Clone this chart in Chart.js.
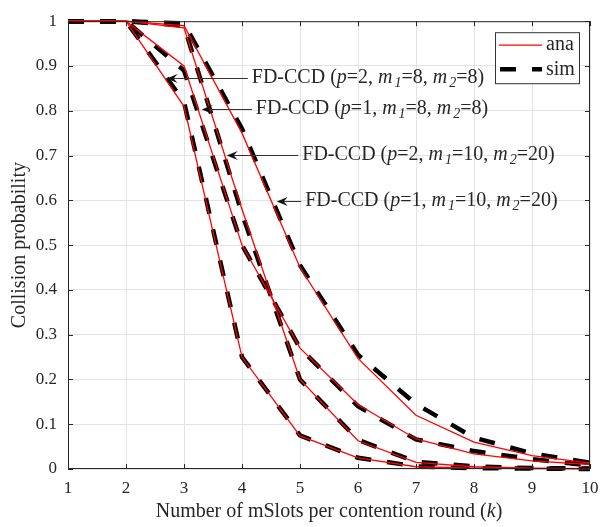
<!DOCTYPE html>
<html>
<head>
<meta charset="utf-8">
<script src="https://cdn.jsdelivr.net/npm/chart.js@4.4.1/dist/chart.umd.min.js"></script>
<style>
  body { margin: 0; background: #fff; }
</style>
</head>
<body>
<canvas id="chart" width="612" height="527"></canvas>
<script>
// k = number of mSlots per contention round
const slots = [1, 2, 3, 4, 5, 6, 7, 8, 9, 10];

// analytical results
const anaP2m8 = [1, 1, 0.81, 0.25, 0.074, 0.025, 0.005, 0.002, 0.001, 0.0005];
const anaP1m8 = [1, 1, 0.90, 0.50, 0.27, 0.144, 0.067, 0.034, 0.018, 0.010];
const anaP2m10 = [1, 1, 0.985, 0.58, 0.20, 0.063, 0.015, 0.005, 0.002, 0.001];
const anaP1m10 = [1, 1, 0.99, 0.75, 0.45, 0.247, 0.12, 0.06, 0.03, 0.013];

// simulation results
const simP2m8 = [1, 1, 0.82, 0.25, 0.075, 0.025, 0.006, 0.002, 0.001, 0];
const simP1m8 = [1, 1, 0.89, 0.50, 0.27, 0.14, 0.066, 0.04, 0.022, 0.008];
const simP2m10 = [1, 1, 0.99, 0.57, 0.20, 0.065, 0.016, 0.006, 0.002, 0.001];
const simP1m10 = [1, 1, 0.995, 0.76, 0.455, 0.255, 0.145, 0.07, 0.035, 0.014];

// annotation labels: [p, m1, m2], arrow tip (k, prob), arrow tail k
const labelParams = [[2, 8, 8], [1, 8, 8], [2, 10, 20], [1, 10, 20]];
const arrowTips = [[2.70, 0.874], [3.305, 0.804], [3.736, 0.702], [4.598, 0.599]];
const arrowTails = [4.10, 4.17, 4.97, 5.02];

const xTitleParts = [['Number of mSlots per contention round (', 0], ['k', 1], [')', 0]];
const yTitle = 'Collision probability';
const legendNames = ['ana', 'sim'];

const SERIF = '"Liberation Serif", "Times New Roman", serif';
const INK = '#262626';

function makeLabel(p, m1, m2) {
  return [['FD-CCD (', 0], ['p', 1], ['=' + p + ', ', 0], ['m', 1], ['1', 2],
          ['=' + m1 + ', ', 0], ['m', 1], ['2', 2], ['=' + m2 + ')', 0]];
}

// style: 0 normal, 1 italic, 2 italic subscript
function drawRich(ctx, parts, x, y, size) {
  let cx = x;
  for (const [t, s] of parts) {
    const sz = s === 2 ? Math.round(size * 0.72) : size;
    ctx.font = (s ? 'italic ' : '') + sz + 'px ' + SERIF;
    const gap = s === 2 ? 2 : 0;
    ctx.fillText(t, cx + gap, y + (s === 2 ? size * 0.3 : 0));
    cx += ctx.measureText(t).width + gap;
  }
  return cx;
}
function richWidth(ctx, parts, size) {
  let w = 0;
  for (const [t, s] of parts) {
    const sz = s === 2 ? Math.round(size * 0.72) : size;
    ctx.font = (s ? 'italic ' : '') + sz + 'px ' + SERIF;
    w += ctx.measureText(t).width + (s === 2 ? 2 : 0);
  }
  return w;
}

const decorations = {
  id: 'decorations',
  afterDatasetsDraw(chart) {
    const ctx = chart.ctx;
    const a = chart.chartArea;
    const xs = chart.scales.x, ys = chart.scales.y;
    ctx.save();

    // axes box with inward ticks
    ctx.strokeStyle = INK;
    ctx.lineWidth = 1;
    ctx.strokeRect(a.left + 0.5, a.top + 0.5, a.right - a.left - 1, a.bottom - a.top - 1);
    ctx.beginPath();
    xs.ticks.forEach(t => {
      const px = Math.round(xs.getPixelForValue(t.value)) + 0.5;
      ctx.moveTo(px, a.bottom); ctx.lineTo(px, a.bottom - 5);
      ctx.moveTo(px, a.top); ctx.lineTo(px, a.top + 5);
    });
    ys.ticks.forEach(t => {
      const py = Math.round(ys.getPixelForValue(t.value)) + 0.5;
      ctx.moveTo(a.left, py); ctx.lineTo(a.left + 5, py);
      ctx.moveTo(a.right, py); ctx.lineTo(a.right - 5, py);
    });
    ctx.stroke();

    // axis titles
    ctx.fillStyle = INK;
    ctx.textBaseline = 'middle';
    const tw = richWidth(ctx, xTitleParts, 20);
    drawRich(ctx, xTitleParts, (a.left + a.right) / 2 - tw / 2, 512, 20);
    ctx.save();
    ctx.translate(20, (a.top + a.bottom) / 2);
    ctx.rotate(-Math.PI / 2);
    ctx.font = '20px ' + SERIF;
    ctx.textAlign = 'center';
    ctx.fillText(yTitle, 0, 0);
    ctx.restore();

    // annotations with arrows
    labelParams.forEach((lp, i) => {
      const tx = xs.getPixelForValue(arrowTips[i][0]);
      const ty = Math.round(ys.getPixelForValue(arrowTips[i][1])) + 0.5;
      const ex = xs.getPixelForValue(arrowTails[i]);
      ctx.strokeStyle = '#333';
      ctx.lineWidth = 1;
      ctx.beginPath();
      ctx.moveTo(tx + 6, ty); ctx.lineTo(ex, ty);
      ctx.stroke();
      ctx.fillStyle = '#111';
      ctx.beginPath();
      ctx.moveTo(tx, ty);
      ctx.lineTo(tx + 11, ty - 4.5);
      ctx.lineTo(tx + 7, ty);
      ctx.lineTo(tx + 11, ty + 4.5);
      ctx.closePath();
      ctx.fill();
      ctx.fillStyle = INK;
      drawRich(ctx, makeLabel(lp[0], lp[1], lp[2]), ex + 4, ty - 1, 20);
    });

    // legend
    const bx = a.right - 95, by = a.top + 11, bw = 84, bh = 51;
    ctx.fillStyle = '#fff';
    ctx.fillRect(bx, by, bw, bh);
    ctx.strokeStyle = '#333';
    ctx.lineWidth = 1;
    ctx.strokeRect(bx + 0.5, by + 0.5, bw, bh);
    ctx.strokeStyle = '#ff0000';
    ctx.lineWidth = 1.3;
    ctx.beginPath(); ctx.moveTo(bx + 4, by + 13); ctx.lineTo(bx + 47, by + 13); ctx.stroke();
    ctx.strokeStyle = '#000';
    ctx.lineWidth = 4.5;
    ctx.lineCap = 'butt';
    ctx.setLineDash([16, 16]);
    ctx.beginPath(); ctx.moveTo(bx + 5, by + 37); ctx.lineTo(bx + 47, by + 37); ctx.stroke();
    ctx.setLineDash([]);
    ctx.fillStyle = INK;
    ctx.font = '20px ' + SERIF;
    ctx.textAlign = 'left';
    ctx.fillText(legendNames[0], bx + 51, by + 13);
    ctx.fillText(legendNames[1], bx + 51, by + 38);

    ctx.restore();
  }
};

function anaSet(data) {
  return { data, borderColor: '#ff0000', borderWidth: 1.3, pointRadius: 0, tension: 0, order: 1, clip: false };
}
function simSet(data) {
  return { data, borderColor: '#000000', borderWidth: 4.5, borderDash: [16, 16], borderCapStyle: 'butt',
           pointRadius: 0, tension: 0, order: 2, clip: false };
}
const toXY = arr => arr.map((v, i) => ({ x: slots[i], y: v }));
const fmtTick = v => String(Number(v.toFixed(1)));

new Chart(document.getElementById('chart').getContext('2d'), {
  type: 'line',
  data: {
    datasets: [
      anaSet(toXY(anaP2m8)), anaSet(toXY(anaP1m8)), anaSet(toXY(anaP2m10)), anaSet(toXY(anaP1m10)),
      simSet(toXY(simP2m8)), simSet(toXY(simP1m8)), simSet(toXY(simP2m10)), simSet(toXY(simP1m10)),
    ],
  },
  options: {
    responsive: false,
    animation: false,
    layout: { padding: { top: 10, right: 22, left: 0, bottom: 0 } },
    plugins: { legend: { display: false }, title: { display: false }, tooltip: { enabled: false } },
    scales: {
      x: {
        type: 'linear', min: 1, max: 10,
        afterFit: s => { s.height = 58; },
        grid: { color: '#e3e3e3', drawTicks: false },
        border: { display: false },
        ticks: { stepSize: 1, padding: 9, color: INK, font: { family: SERIF, size: 17 }, maxRotation: 0, callback: fmtTick },
      },
      y: {
        type: 'linear', min: 0, max: 1,
        afterFit: s => { s.width = 68; },
        grid: { color: '#e3e3e3', drawTicks: false },
        border: { display: false },
        ticks: { stepSize: 0.1, padding: 11, color: INK, font: { family: SERIF, size: 17 }, callback: fmtTick },
      },
    },
  },
  plugins: [decorations],
});
</script>
</body>
</html>
